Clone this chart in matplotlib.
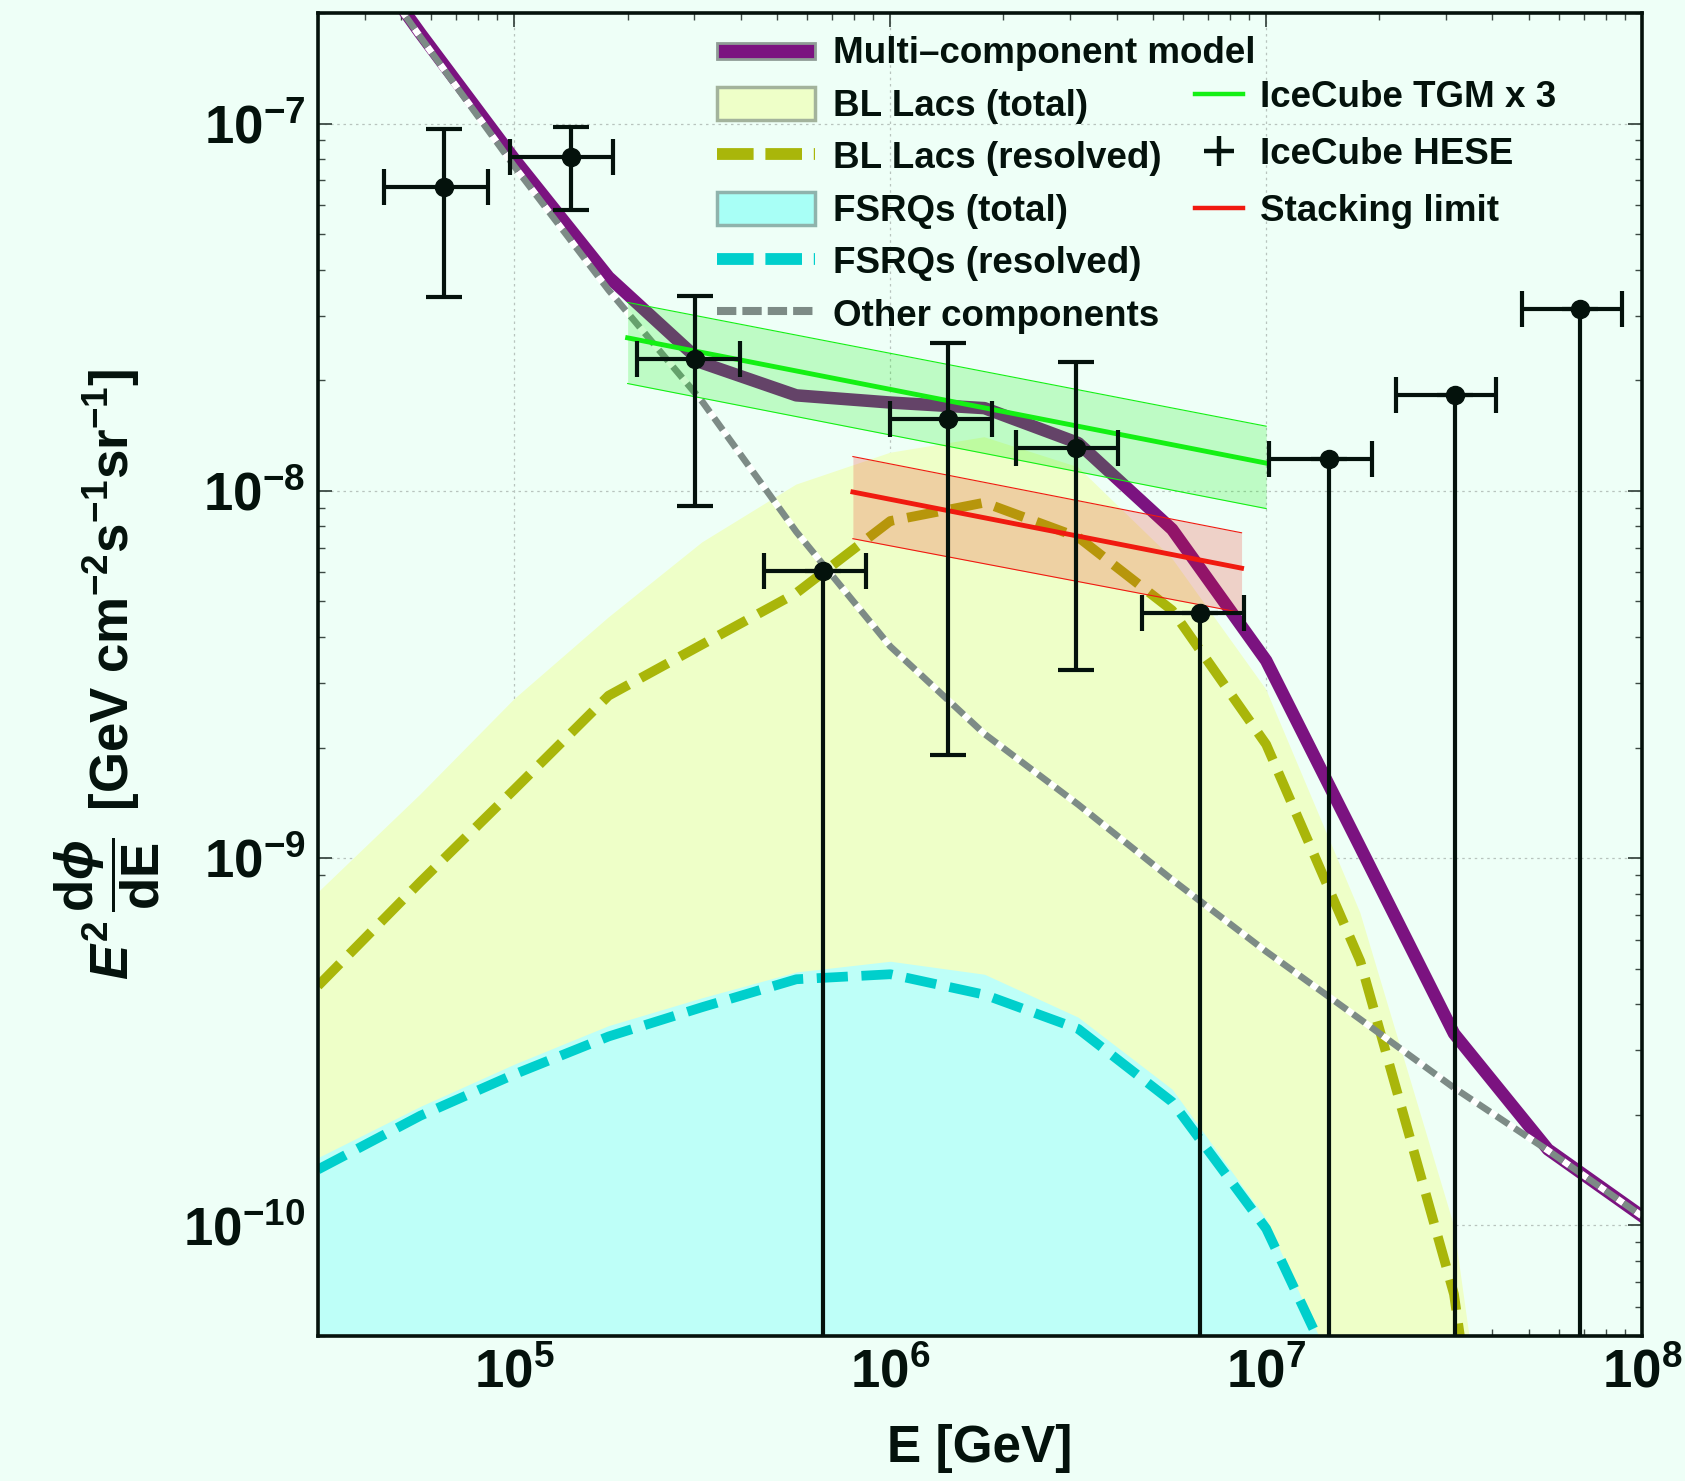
import matplotlib
matplotlib.use('Agg')
import matplotlib.pyplot as plt
import matplotlib.ticker as mticker
import matplotlib.patches as mpatches
from matplotlib.lines import Line2D
from matplotlib.legend_handler import HandlerPatch
import numpy as np

### ------------------------------
### data
### E^2 dphi/dE in GeV cm^-2 s^-1 sr^-1, E in GeV

e_model = [3.0e4, 5.62e4, 1.0e5, 1.78e5, 3.16e5, 5.62e5, 1.0e6, 1.78e6,
           3.16e6, 5.62e6, 1.0e7, 1.78e7, 3.16e7, 5.62e7, 1.0e8]
multi = [4.3e-7, 1.76e-7, 8.0e-8, 3.82e-8, 2.23e-8, 1.82e-8, 1.74e-8, 1.68e-8,
         1.35e-8, 7.86e-9, 3.45e-9, 1.07e-9, 3.33e-10, 1.61e-10, 1.06e-10]
other = [4.25e-7, 1.72e-7, 7.64e-8, 3.52e-8, 1.75e-8, 7.74e-9, 3.77e-9, 2.18e-9,
         1.40e-9, 8.74e-10, 5.57e-10, 3.64e-10, 2.37e-10, 1.60e-10, 1.06e-10]
bl_total = [8.05e-10, 1.49e-9, 2.71e-9, 4.52e-9, 7.24e-9, 1.04e-8, 1.27e-8, 1.40e-8,
            1.16e-8, 6.55e-9, 2.88e-9, 7.1e-10, 1.0e-10, 1.5e-12, 1e-13]
bl_res = [4.49e-10, 8.62e-10, 1.54e-9, 2.77e-9, 3.82e-9, 5.27e-9, 8.28e-9, 9.29e-9,
          7.48e-9, 4.73e-9, 2.04e-9, 5.24e-10, 6.5e-11, 1e-12, 1e-13]
fsrq_total = [1.53e-10, 2.11e-10, 2.75e-10, 3.5e-10, 4.17e-10, 4.9e-10, 5.24e-10, 4.83e-10,
              3.69e-10, 2.35e-10, 1.04e-10, 2.8e-11, 1e-12, 1e-13, 1e-13]
fsrq_res = [1.42e-10, 1.99e-10, 2.58e-10, 3.27e-10, 3.93e-10, 4.68e-10, 4.83e-10, 4.25e-10,
            3.43e-10, 2.17e-10, 9.8e-11, 2.8e-11, 1e-12, 1e-13, 1e-13]

# IceCube through-going muons (x3), band and central line
tgm_e = [2.0e5, 1.0e7]
tgm_mid = [2.61e-8, 1.19e-8]
tgm_lo = [1.96e-8, 8.95e-9]
tgm_hi = [3.26e-8, 1.50e-8]

# stacking limit
stk_e = [7.95e5, 8.6e6]
stk_mid = [9.93e-9, 6.16e-9]
stk_lo = [7.41e-9, 4.66e-9]
stk_hi = [1.24e-8, 7.69e-9]

# IceCube HESE points
hese_e = [6.5e4, 1.41e5, 3.03e5, 6.6e5, 1.42e6, 3.11e6, 6.68e6, 1.47e7, 3.17e7, 6.82e7]
hese_elo = [4.5e4, 9.74e4, 2.12e5, 4.62e5, 1.0e6, 2.16e6, 4.68e6, 1.02e7, 2.21e7, 4.78e7]
hese_ehi = [8.5e4, 1.83e5, 3.97e5, 8.59e5, 1.86e6, 4.03e6, 8.71e6, 1.91e7, 4.1e7, 8.87e7]
hese_f = [6.72e-8, 8.12e-8, 2.29e-8, 6.04e-9, 1.57e-8, 1.31e-8, 4.64e-9, 1.22e-8, 1.82e-8, 3.12e-8]
hese_flo = [3.38e-8, 5.8e-8, 9.1e-9, 1e-13, 1.91e-9, 3.25e-9, 1e-13, 1e-13, 1e-13, 1e-13]
hese_fhi = [9.67e-8, 9.8e-8, 3.40e-8, 6.04e-9, 2.52e-8, 2.24e-8, 4.64e-9, 1.22e-8, 1.82e-8, 3.12e-8]

x_major = [1e5, 1e6, 1e7, 1e8]
y_major = [1e-10, 1e-9, 1e-8, 1e-7]

### ------------------------------
bg = '#EEFFF7'
ink = '#04120C'
purple = '#7B1380'
gray = '#7D8B86'
olive = '#A9B60A'
cyan = '#00CFCC'
green = '#14F014'
red = '#F01A10'

plt.rcParams['font.family'] = 'Liberation Sans'
plt.rcParams['font.weight'] = 'bold'
plt.rcParams['axes.labelweight'] = 'bold'
plt.rcParams['mathtext.fontset'] = 'custom'
plt.rcParams['mathtext.rm'] = 'Liberation Sans:bold'
plt.rcParams['mathtext.bf'] = 'Liberation Sans:bold'
plt.rcParams['mathtext.it'] = 'Liberation Sans:bold:italic'
plt.rcParams['mathtext.sf'] = 'Liberation Sans:bold'

fig = plt.figure(figsize=(16.85, 14.81), dpi=100)
fig.patch.set_facecolor(bg)
ax = fig.add_axes([0.1887, 0.0979, 0.7858, 0.8933])
ax.set_facecolor(bg)
ax.set_xscale('log')
ax.set_yscale('log')

ax.fill_between(e_model, 1e-13, bl_total, color='#EEFFC8', lw=0, zorder=1)
ax.fill_between(e_model, 1e-13, fsrq_total, color='#BEFFF8', lw=0, zorder=1.1)
ax.plot(e_model, fsrq_res, color=cyan, lw=7, dashes=(3.2, 1.4), zorder=2)
ax.plot(e_model, bl_res, color=olive, lw=7, dashes=(3.2, 1.4), zorder=2.1)
ax.plot(e_model, multi, color=purple, lw=9, zorder=2.2)
ax.plot(e_model, other, color=gray, lw=4.8, dashes=(2.2, 1.1), gapcolor='white', zorder=2.3)

# bands
ax.fill_between(tgm_e, tgm_lo, tgm_hi, color=green, alpha=0.22, lw=0, zorder=3)
ax.plot(tgm_e, tgm_lo, color=green, lw=0.8, zorder=3)
ax.plot(tgm_e, tgm_hi, color=green, lw=0.8, zorder=3)
ax.fill_between(stk_e, stk_lo, stk_hi, color=red, alpha=0.2, lw=0, zorder=3)
ax.plot(stk_e, stk_lo, color=red, lw=0.8, zorder=3)
ax.plot(stk_e, stk_hi, color=red, lw=0.8, zorder=3)
ax.plot(tgm_e, tgm_mid, color=green, lw=3.5, zorder=3.5)
ax.plot(stk_e, stk_mid, color=red, lw=3.5, zorder=3.5)

e = np.array(hese_e)
f = np.array(hese_f)
xerr = [e - np.array(hese_elo), np.array(hese_ehi) - e]
yerr = [f - np.array(hese_flo), np.array(hese_fhi) - f]
ax.errorbar(e, f, xerr=xerr, yerr=yerr, fmt='o', color=ink, ms=13, lw=3,
            capsize=13, capthick=3, zorder=5)

ax.set_xlim(3e4, 1e8)
ax.set_ylim(5e-11, 2e-7)

# axes cosmetics
for s in ax.spines.values():
    s.set_linewidth(2.6)
    s.set_color(ink)
    s.set_zorder(6)
ax.xaxis.set_major_locator(mticker.FixedLocator(x_major))
ax.yaxis.set_major_locator(mticker.FixedLocator(y_major))
ax.xaxis.set_minor_locator(mticker.LogLocator(base=10, subs=np.arange(2, 10), numticks=20))
ax.yaxis.set_minor_locator(mticker.LogLocator(base=10, subs=np.arange(2, 10), numticks=20))
fmt = mticker.FuncFormatter(lambda v, p: r'$\mathbf{10^{%d}}$' % int(round(np.log10(v))))
ax.xaxis.set_major_formatter(fmt)
ax.yaxis.set_major_formatter(fmt)
ax.xaxis.set_minor_formatter(mticker.NullFormatter())
ax.yaxis.set_minor_formatter(mticker.NullFormatter())
ax.tick_params(which='both', direction='in', top=True, right=True, color='#3c4a44')
ax.tick_params(which='major', length=10, width=1.3, labelsize=38, pad=9, labelcolor=ink)
ax.tick_params(which='minor', length=5, width=1.0)
ax.grid(True, which='major', color='#b8c4be', ls=(0, (2, 3)), lw=0.9, zorder=0)
ax.set_axisbelow(True)

ax.set_xlabel('E [GeV]', fontsize=37, fontweight='bold', color=ink, labelpad=18)
ax.set_ylabel(r'$E^2\,\dfrac{\mathrm{d}\phi}{\mathrm{dE}}\,$ [GeV cm$^{-2}$s$^{-1}$sr$^{-1}$]',
              fontsize=38, fontweight='bold', color=ink, labelpad=15)

### legends
def thin_bar(legend, orig_handle, xdescent, ydescent, width, height, fontsize):
    return mpatches.Rectangle((-xdescent, -ydescent + height * 0.26), width, height * 0.48)

h_multi = mpatches.Patch(facecolor=purple, edgecolor='#8f9c96', lw=2)
h_blt = mpatches.Patch(facecolor='#EEFFC8', edgecolor='#a3b39c', lw=2.5)
h_blr = Line2D([], [], color=olive, lw=8.5, dashes=(3.1, 1.0))
h_fst = mpatches.Patch(facecolor='#A8FFF6', edgecolor='#8fb3ac', lw=2.5)
h_fsr = Line2D([], [], color=cyan, lw=8.5, dashes=(3.1, 1.0))
h_oth = Line2D([], [], color=gray, lw=5.8, dashes=(2.4, 0.75))

leg1 = ax.legend([h_multi, h_blt, h_blr, h_fst, h_fsr, h_oth],
                 ['Multi\u2013component model', 'BL Lacs (total)', 'BL Lacs (resolved)',
                  'FSRQs (total)', 'FSRQs (resolved)', 'Other components'],
                 handler_map={h_multi: HandlerPatch(patch_func=thin_bar)},
                 loc='upper left', bbox_to_anchor=(0.3014, 0.984), frameon=False,
                 fontsize=26.5, handlelength=2.66, handleheight=1.0, handletextpad=0.49,
                 labelspacing=0.42, borderpad=0, borderaxespad=0)
for t in leg1.get_texts():
    t.set_color(ink)
ax.add_artist(leg1)

h_tgm = Line2D([], [], color=green, lw=3.2)
h_hese = Line2D([], [], color=ink, marker='+', ms=22, mew=3.2, ls='none')
h_stk = Line2D([], [], color=red, lw=3.2)
leg2 = ax.legend([h_tgm, h_hese, h_stk], ['IceCube TGM x 3', 'IceCube HESE', 'Stacking limit'],
                 loc='upper left', bbox_to_anchor=(0.6624, 0.9496), frameon=False,
                 fontsize=26.5, handlelength=1.3, handletextpad=0.46,
                 labelspacing=0.60, borderpad=0, borderaxespad=0)
for t in leg2.get_texts():
    t.set_color(ink)

plt.savefig('out.png', dpi=100, facecolor=bg)
